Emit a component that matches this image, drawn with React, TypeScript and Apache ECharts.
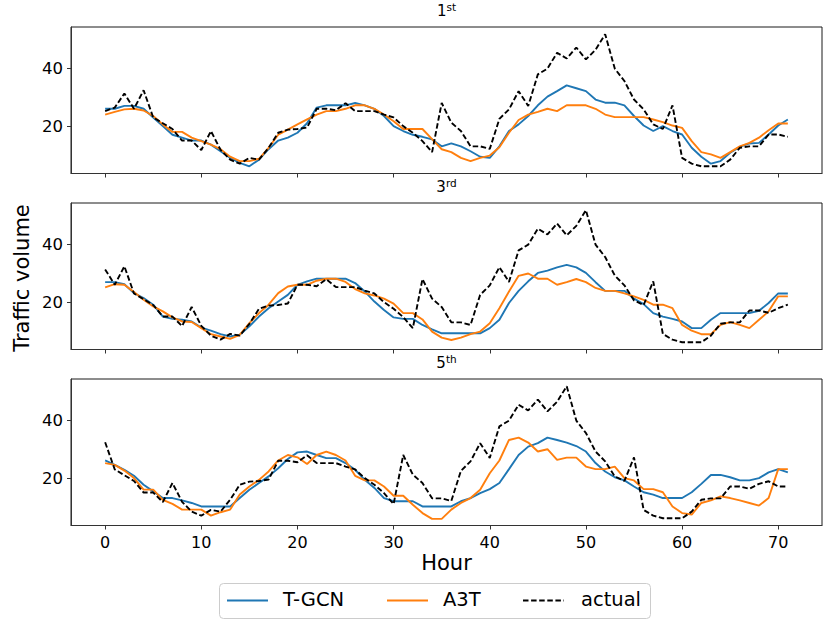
import React, { useEffect, useRef } from "react";
import * as echarts from "echarts";

const hours = Array.from({ length: 72 }, (_, i) => i);
const xTicks = [0, 10, 20, 30, 40, 50, 60, 70];
const yTicks = [20, 40];
const seriesNames = ["T-GCN", "A3T", "actual"];
const panelTitles = [
  ["1", "st"],
  ["3", "rd"],
  ["5", "th"],
];

const tgcn1 = [26, 26, 27, 27, 26, 23, 20, 17, 16, 15, 15, 13.6, 11.3, 9, 7.3, 6.1, 8.4, 12, 15, 16, 17.7, 21, 26.4, 27.2, 27.2, 27.2, 28, 27.2, 26, 23.5, 20, 18.3, 17, 16.3, 15.4, 13, 14, 13, 11.3, 9.4, 9, 13, 18.3, 20.6, 23.5, 27.2, 30.2, 32.1, 34.1, 33.1, 32.1, 29.2, 28.1, 28.1, 27.2, 23.5, 20.2, 18.3, 20, 18.3, 17.1, 12.5, 9.4, 7, 7.9, 10.8, 12.8, 14, 14.2, 17.1, 20.2, 22.3];
const a3t1 = [24, 24.9, 25.8, 26, 25.4, 23.5, 20.6, 18, 18, 16, 14.8, 13.6, 12, 9.4, 7.9, 7.9, 8.7, 12.5, 17, 18.8, 20.6, 22.3, 24, 25.2, 25.2, 26, 27.2, 27.2, 26, 24, 21.7, 19, 19, 19, 15.5, 12, 11, 9, 7.9, 9, 9.8, 12.7, 17.7, 22.1, 24, 24.9, 26, 25.2, 27.2, 27.2, 27.2, 26, 24, 23.1, 23.1, 23.1, 23.1, 22.3, 21.4, 20.2, 19.4, 14.8, 11, 10.2, 9, 11, 13, 14.2, 16, 18.6, 20.9, 20.9];
const actual1 = [25.2, 26.4, 31.3, 26, 32.4, 23, 21, 19, 15, 15, 11.7, 18.3, 11.8, 8.4, 7, 9, 8.4, 12.5, 17.7, 18.8, 19, 19.5, 26, 26, 25.5, 27.9, 25.2, 25.2, 25.2, 24, 23, 20, 17.7, 14.8, 11, 28, 21.2, 18.3, 13, 13, 12.1, 22.5, 25.8, 32.1, 27, 37.9, 39.9, 45.4, 43.4, 47.2, 43.1, 46.4, 51.8, 39.9, 35.6, 29.2, 25.8, 20.6, 19, 27.2, 9, 7, 6.1, 6.1, 6.1, 8.4, 12.5, 13, 13, 17.1, 17.1, 16.3];

const tgcn3 = [26.9, 26.9, 26.2, 23.1, 21.4, 19.1, 15, 14.2, 13.9, 13.3, 11.2, 10.1, 8.9, 8.1, 8.7, 11.6, 15, 17.9, 20.2, 22.5, 26, 27.2, 28.1, 28.1, 28.1, 28.1, 26.6, 23.7, 20.2, 17.3, 14.7, 14.2, 14.2, 12.1, 10.6, 9.2, 9.2, 9.2, 9.2, 9.2, 11, 13.9, 19.7, 23.9, 27.2, 30.1, 30.9, 32, 32.9, 32, 30.1, 26.9, 23.9, 23.9, 23.9, 21.2, 19.3, 16.2, 15, 14.2, 13.3, 11, 11, 13.9, 16.2, 16.2, 16.2, 16.2, 17, 19.7, 23, 23];
const a3t3 = [25.1, 26.2, 26, 23.5, 20.8, 18.5, 16.8, 14.7, 13.3, 13.1, 11, 8.9, 8.1, 7.3, 8.7, 12.7, 16.2, 19.1, 23.1, 25.4, 26, 26, 27.4, 28.1, 28.1, 27, 24.5, 23, 22.3, 21.2, 19.5, 16.2, 16.2, 14, 9.8, 7.7, 6.9, 7.7, 8.9, 9.8, 12.7, 17.9, 23.7, 29.1, 29.9, 28.1, 28.1, 26, 26.9, 28, 26.9, 24.9, 23.9, 23.9, 23, 22, 20.8, 19.1, 19.1, 17.9, 12.1, 10.1, 8.9, 8.9, 12.1, 13.1, 12.1, 11, 13.9, 16.8, 22, 22];
const actual3 = [31.3, 26, 32.4, 23, 21, 19, 15, 15, 11.7, 18.3, 11.8, 8.4, 7, 9, 8.4, 12.5, 17.7, 18.8, 19, 19.5, 26, 26, 25.5, 27.9, 25.2, 25.2, 25.2, 24, 23, 20, 17.7, 14.8, 11, 28, 21.2, 18.3, 13, 13, 12.1, 22.5, 25.8, 32.1, 27, 37.9, 39.9, 45.4, 43.4, 47.2, 43.1, 46.4, 51.8, 39.9, 35.6, 29.2, 25.8, 20.6, 19, 27.2, 9, 7, 6.1, 6.1, 6.1, 8.4, 12.5, 13, 13, 17.1, 17.1, 16.3, 17.9, 19.1];

const tgcn5 = [26.1, 24.6, 22.9, 20.8, 17.7, 15.4, 13.1, 13.1, 12.3, 11.4, 10.2, 10.2, 10.2, 10.2, 13.1, 16, 18.3, 20.6, 23.4, 26.6, 28.9, 29.2, 28, 26.9, 26.9, 25.2, 22.9, 19.4, 16.6, 13.1, 12, 12, 12, 10.2, 10.2, 10.2, 10.2, 12, 13.1, 14.8, 16.2, 18.3, 23.1, 28, 30.9, 32.1, 34, 33.2, 32.3, 31.1, 29.2, 25.2, 22.3, 20.3, 19.2, 17.1, 15.1, 14.3, 13.1, 13.1, 13.1, 15.1, 18, 21.1, 21.1, 20.3, 19.2, 19.2, 20, 22, 23.1, 22];
const a3t5 = [25.2, 24.6, 22.6, 20, 16, 16, 12.5, 11.1, 9.1, 9.1, 9.1, 7, 8.2, 9.1, 14.3, 17.1, 19.4, 22.3, 26.1, 28, 27.2, 24.9, 28, 29.2, 28, 26.1, 20.8, 19.2, 19.2, 17.1, 13.9, 13.9, 10.8, 7.9, 5.9, 5.9, 9.1, 11.4, 13.1, 16, 21.7, 26.1, 33.2, 34, 32.3, 29.2, 30, 26.3, 27.1, 27.1, 24, 23.1, 23.1, 24, 20, 19.2, 16.2, 16.2, 15.1, 10.2, 7.9, 7.4, 11.4, 12.3, 13.7, 13.1, 12.3, 11.4, 10.5, 13.1, 23.1, 23.1];
const actual5 = [32.4, 23, 21, 19, 15, 15, 11.7, 18.3, 11.8, 8.4, 7, 9, 8.4, 12.5, 17.7, 18.8, 19, 19.5, 26, 26, 25.5, 27.9, 25.2, 25.2, 25.2, 24, 23, 20, 17.7, 14.8, 11, 28, 21.2, 18.3, 13, 13, 12.1, 22.5, 25.8, 32.1, 27, 37.9, 39.9, 45.4, 43.4, 47.2, 43.1, 46.4, 51.8, 39.9, 35.6, 29.2, 25.8, 20.6, 19, 27.2, 9, 7, 6.1, 6.1, 6.1, 8.4, 12.5, 13, 13, 17.1, 17.1, 16.3, 18, 18.9, 17.1, 17.1];

const panels = [
  [tgcn1, a3t1, actual1],
  [tgcn3, a3t3, actual3],
  [tgcn5, a3t5, actual5],
];

const FONT = "DejaVu Sans";
const COLORS = ["#1f77b4", "#ff7f0e", "#000000"];
const DASH = [5.5, 2.6];

export default function App() {
  const ref = useRef<HTMLDivElement>(null);
  useEffect(() => {
    if (!ref.current) return;
    const chart = echarts.init(ref.current, null, { renderer: "svg" });
    const gridLeft = 71;
    const gridRight = 9;
    const tops = [27, 203, 379];
    const h = 146.5;
    const centerX = gridLeft + (831 - gridLeft - gridRight) / 2;

    const grids = tops.map((t) => ({
      left: gridLeft,
      right: gridRight,
      top: t,
      height: h,
      show: true,
      borderColor: "#1a1a1a",
      borderWidth: 1,
      backgroundColor: "transparent",
    }));
    const xAxes = tops.map((_, i) => ({
      type: "value",
      gridIndex: i,
      min: -3.55,
      max: 74.55,
      splitLine: { show: false },
      axisLine: { show: true, onZero: false, lineStyle: { color: "#333", width: 1 } },
      axisTick: { show: true, customValues: xTicks, length: 4, lineStyle: { color: "#333" } },
      axisLabel: {
        show: i === 2,
        customValues: xTicks,
        fontSize: 16,
        fontFamily: FONT,
        color: "#000",
        margin: 9,
      },
    }));
    const yAxes = tops.map((_, i) => ({
      type: "value",
      gridIndex: i,
      min: 3.6,
      max: 54.3,
      splitLine: { show: false },
      axisLine: { show: true, onZero: false, lineStyle: { color: "#333", width: 1 } },
      axisTick: { show: true, customValues: yTicks, length: 4, lineStyle: { color: "#333" } },
      axisLabel: {
        customValues: yTicks,
        fontSize: 16.5,
        fontFamily: FONT,
        color: "#000",
        margin: 8,
      },
    }));
    const series: any[] = [];
    panels.forEach((p, i) => {
      p.forEach((vals, k) => {
        series.push({
          type: "line",
          name: seriesNames[k],
          xAxisIndex: i,
          yAxisIndex: i,
          symbol: "none",
          data: hours.map((x, j) => [x, vals[j]]),
          lineStyle: {
            color: COLORS[k],
            width: 1.9,
            type: k === 2 ? DASH : "solid",
          },
          itemStyle: { color: COLORS[k] },
          z: 2 + k,
        });
      });
    });

    const titleGraphics = panelTitles.map((pt, i) => ({
      type: "text",
      x: centerX,
      y: tops[i] - 7,
      style: {
        text: `{a|${pt[0]}}{b|${pt[1]}}`,
        align: "center",
        verticalAlign: "bottom",
        rich: {
          a: { fontSize: 15, fontFamily: FONT, fill: "#000", lineHeight: 19 },
          b: { fontSize: 10.5, fontFamily: FONT, fill: "#000", lineHeight: 10, verticalAlign: "top" },
        },
      },
    }));

    const legX = [227, 387, 523];
    const legTextX = [283, 443, 581];
    const legY = 600.5;
    const legendGraphics: any[] = [
      {
        type: "rect",
        shape: { x: 219.5, y: 583.5, width: 431, height: 35, r: 4 },
        style: { fill: "#fff", stroke: "#cccccc", lineWidth: 1 },
        z: 10,
      },
    ];
    seriesNames.forEach((name, k) => {
      legendGraphics.push({
        type: "line",
        shape: { x1: legX[k], y1: legY, x2: legX[k] + 41, y2: legY },
        style: {
          stroke: COLORS[k],
          lineWidth: 1.9,
          lineDash: k === 2 ? DASH : null,
        },
        z: 11,
      });
      legendGraphics.push({
        type: "text",
        x: legTextX[k],
        y: legY - 1,
        style: {
          text: name,
          fontSize: 19.5,
          fontFamily: FONT,
          fill: "#000",
          align: "left",
          verticalAlign: "middle",
        },
        z: 11,
      });
    });

    chart.setOption({
      animation: false,
      backgroundColor: "#fff",
      grid: grids,
      xAxis: xAxes,
      yAxis: yAxes,
      series,
      graphic: [
        ...titleGraphics,
        ...legendGraphics,
        {
          type: "text",
          x: centerX,
          y: 563,
          style: {
            text: "Hour",
            fontSize: 21,
            fontFamily: FONT,
            fill: "#000",
            align: "center",
            verticalAlign: "middle",
          },
        },
        {
          type: "text",
          x: 22,
          y: 278,
          rotation: Math.PI / 2,
          style: {
            text: "Traffic volume",
            fontSize: 21,
            fontFamily: FONT,
            fill: "#000",
            align: "center",
            verticalAlign: "middle",
          },
        },
      ],
    });
    return () => chart.dispose();
  }, []);
  return (
    <div
      ref={ref}
      style={{ position: "fixed", left: 0, top: 0, width: 831, height: 627, background: "#fff" }}
    />
  );
}
